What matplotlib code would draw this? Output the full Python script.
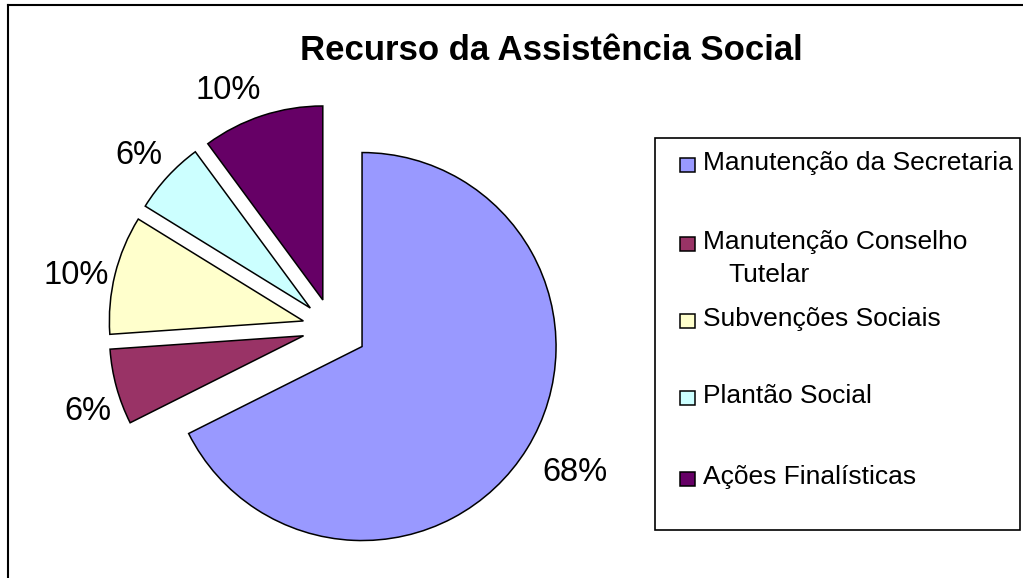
import numpy as np
import matplotlib
matplotlib.use('Agg')
import matplotlib.pyplot as plt
from matplotlib.patches import Rectangle
from matplotlib.lines import Line2D

# data
categories = ['Manutenção da Secretaria', 'Manutenção Conselho\nTutelar',
              'Subvenções Sociais', 'Plantão Social', 'Ações Finalísticas']
values = [67.6, 6.3, 9.9, 6.1, 10.1]
colors = ['#9999FF', '#993366', '#FFFFCC', '#CCFFFF', '#660066']
explode = [0.182, 0.152, 0.152, 0.152, 0.152]
title = 'Recurso da Assistência Social'

# label placement relative to each exploded slice (distance in radii,
# angle nudge in degrees from the slice middle)
label_dist = [1.264, 1.172, 1.199, 1.192, 1.196]
label_nudge = [1.7, 3.3, 1.9, 0.5, 5.8]

W, H = 1023, 578
plt.rcParams['font.family'] = ['Liberation Sans', 'DejaVu Sans']


def px(x, y):
    # pixel position (from top left) to figure coords
    return x / W, 1 - y / H


fig = plt.figure(figsize=(W / 100, H / 100), dpi=100)
ax = fig.add_axes([0, 0, 1, 1])

wedges, _ = ax.pie(values, colors=colors, explode=explode, startangle=90,
                   counterclock=False,
                   wedgeprops=dict(edgecolor='black', linewidth=1.1))

# pie centre at pixel (332, 328), radius 194 px
r = 194.0
half_cap = 11.5 / r

# percentage labels outside each slice
total = sum(values)
for i, w in enumerate(wedges):
    mid = np.deg2rad((w.theta1 + w.theta2) / 2 + label_nudge[i])
    cx, cy = w.center
    ax.text(cx + label_dist[i] * np.cos(mid),
            cy + label_dist[i] * np.sin(mid) - half_cap,
            '{:.0f}%'.format(values[i] / total * 100),
            ha='center', va='baseline', fontsize=23.5)

ax.set_xlim(-332 / r, (W - 332) / r)
ax.set_ylim(-(H - 328) / r, 328 / r)
ax.set_aspect('equal')
ax.axis('off')

fig.text(*px(551, 60), title, ha='center', va='baseline', fontsize=25,
         fontweight='bold')

# outer frame (only top and left are visible)
fig.add_artist(Line2D([px(8, 0)[0], 1], [px(0, 5)[1]] * 2, color='black',
                      lw=1.5, transform=fig.transFigure))
fig.add_artist(Line2D([px(8, 0)[0]] * 2, [0, px(0, 5)[1]], color='black',
                      lw=1.5, transform=fig.transFigure))

# legend box
x0, y0 = px(655, 530)
x1, y1 = px(1020, 138)
fig.add_artist(Rectangle((x0, y0), x1 - x0, y1 - y0, facecolor='white',
                         edgecolor='black', lw=1.2, transform=fig.transFigure))

baselines = [170, 249, 326, 403, 484]
for lab, col, yy in zip(categories, colors, baselines):
    sx, sy = px(680, yy + 2)
    fig.add_artist(Rectangle((sx, sy), 15 / W, 14 / H, facecolor=col,
                             edgecolor='black', lw=1.1,
                             transform=fig.transFigure))
    lines = lab.split('\n')
    fig.text(*px(703, yy), lines[0], ha='left', va='baseline', fontsize=19)
    for k, extra in enumerate(lines[1:]):
        fig.text(*px(728, yy + 33 * (k + 1)), extra, ha='left',
                 va='baseline', fontsize=19)

fig.savefig('out.png', dpi=100)
